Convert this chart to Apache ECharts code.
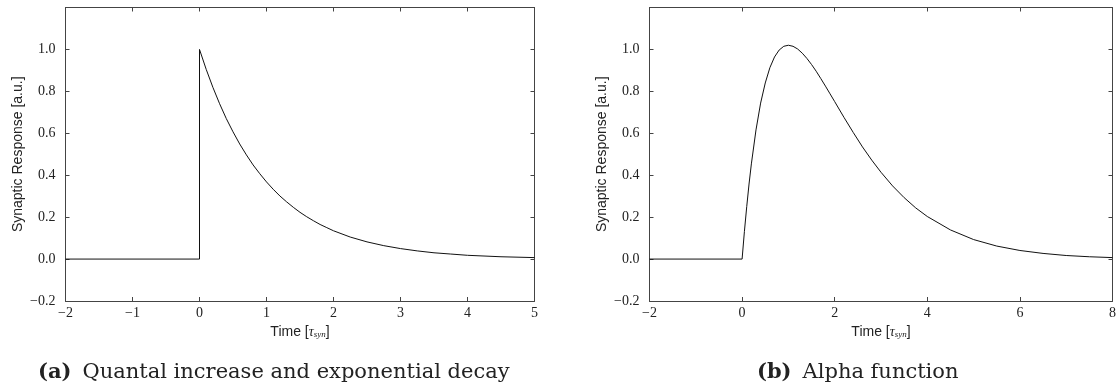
<!DOCTYPE html>
<html>
<head>
<meta charset="utf-8">
<script src="https://cdn.jsdelivr.net/npm/echarts@6/dist/echarts.min.js"></script>
<style>
  html, body { margin: 0; padding: 0; background: #fff; }
  #main { width: 1119px; height: 387px; }
</style>
</head>
<body>
<div id="main"></div>
<script>
// panel (a): quantal increase then exponential decay
var stepTime = [-2, 0, 0];
var stepValue = [0, 0, 1.0];
var decayTime = [0, 0.1, 0.2, 0.3, 0.4, 0.5, 0.6, 0.7, 0.8, 0.9, 1.0, 1.1, 1.2, 1.3, 1.4, 1.5, 1.6, 1.7, 1.8, 1.9, 2.0,
  2.25, 2.5, 2.75, 3.0, 3.25, 3.5, 3.75, 4.0, 4.5, 5.0];
var decayValue = [1.0, 0.905, 0.819, 0.741, 0.670, 0.607, 0.549, 0.497, 0.449, 0.407, 0.368, 0.333, 0.301, 0.273, 0.247,
  0.223, 0.202, 0.183, 0.165, 0.150, 0.135, 0.105, 0.082, 0.064, 0.050, 0.039, 0.030, 0.024, 0.018, 0.011, 0.007];

// panel (b): alpha function
var flatTime = [-2, 0];
var flatValue = [0, 0];
var alphaTime = [0, 0.05, 0.1, 0.15, 0.2, 0.3, 0.4, 0.5, 0.6, 0.7, 0.8, 0.9, 1.0, 1.1, 1.2, 1.3, 1.4, 1.5, 1.6, 1.7, 1.8,
  1.9, 2.0, 2.2, 2.4, 2.6, 2.8, 3.0, 3.25, 3.5, 3.75, 4.0, 4.5, 5.0, 5.5, 6.0, 6.5, 7.0, 7.5, 8.0];
var alphaValue = [0, 0.132, 0.25, 0.358, 0.454, 0.616, 0.744, 0.840, 0.913, 0.964, 0.997, 1.015, 1.02, 1.015, 1.002,
  0.982, 0.957, 0.928, 0.896, 0.861, 0.825, 0.788, 0.751, 0.676, 0.604, 0.535, 0.472, 0.414, 0.349, 0.293, 0.244,
  0.203, 0.139, 0.093, 0.062, 0.041, 0.027, 0.017, 0.011, 0.007];

var xRangeA = [-2, 5];
var xRangeB = [-2, 8];
var yRange = [-0.2, 1.2];

function pairs(xs, ys) {
  var out = [];
  for (var i = 0; i < xs.length; i++) out.push([xs[i], ys[i]]);
  return out;
}

var serif = "Liberation Serif";
var capSerif = "DejaVu Serif";
var sans = "Liberation Sans";
var axisColor = "#444";

function fmtX(v) {
  return String(Math.round(v)).replace("-", "\u2212");
}
function fmtY(v) {
  if (v > 1.1) return "";
  return v.toFixed(1).replace("-", "\u2212");
}

function xAxisOf(grid, range, step, top) {
  return {
    type: "value", gridIndex: grid, min: range[0], max: range[1], interval: step,
    position: top ? "top" : "bottom",
    axisLine: { show: true, onZero: false, lineStyle: { color: axisColor, width: 1 } },
    axisTick: { show: true, inside: true, length: 4, lineStyle: { color: axisColor } },
    axisLabel: top ? { show: false } : {
      show: true, margin: 5, color: "#222", fontFamily: serif, fontSize: 14, formatter: fmtX
    },
    splitLine: { show: false },
    name: top ? "" : "{n|Time [}{t|τ}{s|syn}{n|]}",
    nameLocation: "middle", nameGap: 23,
    nameTextStyle: {
      rich: {
        n: { fontFamily: sans, fontSize: 14, color: "#222" },
        t: { fontFamily: serif, fontStyle: "italic", fontSize: 14, color: "#222" },
        s: { fontFamily: serif, fontStyle: "italic", fontSize: 9, color: "#222", padding: [6, 0, 0, 0] }
      }
    }
  };
}

function yAxisOf(grid, right) {
  return {
    type: "value", gridIndex: grid, min: yRange[0], max: yRange[1], interval: 0.2,
    position: right ? "right" : "left",
    axisLine: { show: true, onZero: false, lineStyle: { color: axisColor, width: 1 } },
    axisTick: { show: true, inside: true, length: 4, lineStyle: { color: axisColor } },
    axisLabel: right ? { show: false } : {
      show: true, margin: 10, color: "#222", fontFamily: serif, fontSize: 14, formatter: fmtY
    },
    splitLine: { show: false },
    name: right ? "" : "Synaptic Response [a.u.]",
    nameLocation: "middle", nameGap: 40,
    nameTextStyle: { fontFamily: sans, fontSize: 14, color: "#222" }
  };
}

function line(xi, yi, data) {
  return {
    type: "line", xAxisIndex: xi, yAxisIndex: yi, data: data, showSymbol: false,
    smooth: false, lineStyle: { color: "#111", width: 1 }, silent: true
  };
}

function caption(x, tag, text) {
  return {
    type: "text", left: x, top: 362,
    style: {
      text: "{b|" + tag + "}{r|" + text + "}",
      rich: {
        b: { fontFamily: capSerif, fontWeight: "bold", fontSize: 21, fill: "#222", padding: [0, 11, 0, 0] },
        r: { fontFamily: capSerif, fontSize: 21, fill: "#222" }
      }
    }
  };
}

var chart = echarts.init(document.getElementById("main"));
chart.setOption({
  animation: false,
  grid: [
    { left: 65.5, right: 584.5, top: 7.5, bottom: 86 },
    { left: 649.5, right: 1.5, top: 7.5, bottom: 86 }
  ],
  xAxis: [
    xAxisOf(0, xRangeA, 1, false), xAxisOf(0, xRangeA, 1, true),
    xAxisOf(1, xRangeB, 2, false), xAxisOf(1, xRangeB, 2, true)
  ],
  yAxis: [yAxisOf(0, false), yAxisOf(0, true), yAxisOf(1, false), yAxisOf(1, true)],
  series: [
    line(0, 0, pairs(stepTime, stepValue)),
    line(0, 0, pairs(decayTime, decayValue)),
    line(2, 2, pairs(flatTime, flatValue)),
    line(2, 2, pairs(alphaTime, alphaValue))
  ],
  graphic: [
    caption(38, "(a)", "Quantal increase and exponential decay"),
    caption(757, "(b)", "Alpha function")
  ]
});
</script>
</body>
</html>
